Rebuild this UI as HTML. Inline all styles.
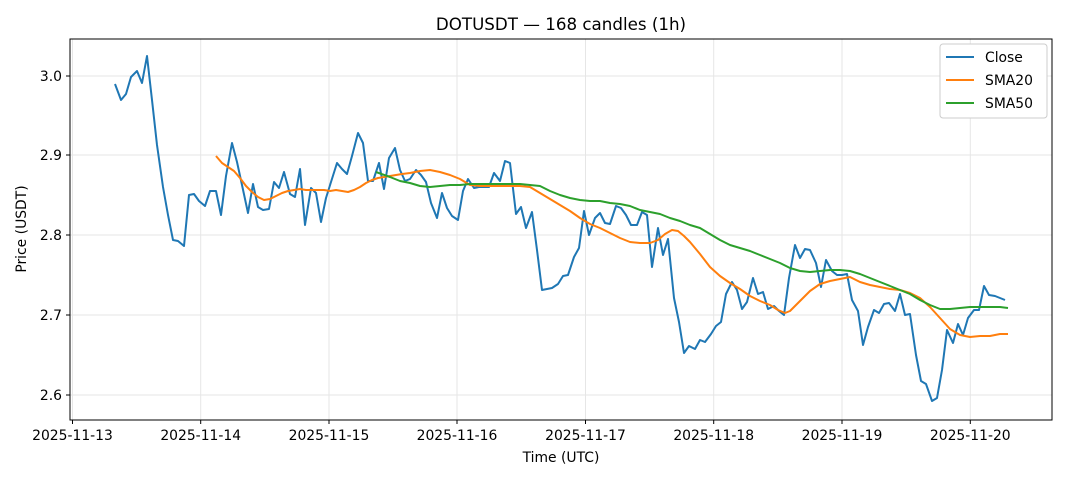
<!DOCTYPE html>
<html><head><meta charset="utf-8"><style>body{margin:0;background:#fff}svg{display:block;font-family:"DejaVu Sans","Liberation Sans",sans-serif}</style></head><body>
<svg width="1068" height="481" viewBox="0 0 1068 481">
<rect width="1068" height="481" fill="#fff"/>
<text x="561" y="30" font-size="16.7" text-anchor="middle" fill="#000">DOTUSDT — 168 candles (1h)</text>
<g stroke="#e6e6e6" stroke-width="1">
<line x1="72.5" y1="39" x2="72.5" y2="420"/><line x1="200.7" y1="39" x2="200.7" y2="420"/><line x1="329" y1="39" x2="329" y2="420"/><line x1="457" y1="39" x2="457" y2="420"/><line x1="585.5" y1="39" x2="585.5" y2="420"/><line x1="713.7" y1="39" x2="713.7" y2="420"/><line x1="842" y1="39" x2="842" y2="420"/><line x1="970.3" y1="39" x2="970.3" y2="420"/>
<line x1="70" y1="76" x2="1052" y2="76"/><line x1="70" y1="155" x2="1052" y2="155"/><line x1="70" y1="235" x2="1052" y2="235"/><line x1="70" y1="315" x2="1052" y2="315"/><line x1="70" y1="395" x2="1052" y2="395"/>
</g>
<polyline fill="none" stroke="#1f77b4" stroke-width="2" stroke-linejoin="round" points="115,84 121,100 126,94 131,77 137,71 142,83 147,56 152,100 157,145 163,187 168,215 173,240 178,241 184,246 189,195 194,194 199,201 205,206 210,191 216,191 221,215 226,176 232,143 237,162 242,185 248,213 253,184 258,207 263,210 269,209 274,182 279,188 284,172 290,194 295,197 300,169 305,225 311,188 316,193 321,222 326,198 331,182 337,163 342,169 347,174 352,156 358,133 363,143 368,181 373,181 379,163 384,189 389,158 395,148 400,170 405,181 410,179 416,170 421,175 426,182 431,203 437,218 442,193 447,208 452,216 458,220 463,191 468,179 474,188 479,187 484,187 489,187 494,173 500,181 505,161 510,163 516,214 521,207 526,228 532,212 537,250 542,290 547,289 552,288 558,284 563,276 568,275 574,257 579,248 584,211 589,235 595,218 600,213 605,223 610,224 616,206 621,208 626,215 631,225 637,225 642,212 647,215 652,267 658,228 663,255 668,239 674,298 679,322 684,353 689,346 695,349 700,340 705,342 711,334 716,326 721,322 726,294 732,282 737,290 742,309 747,302 753,278 758,294 763,292 768,309 774,306 779,311 784,315 789,278 795,245 800,258 805,249 810,250 816,263 821,287 826,260 832,271 837,275 842,275 847,274 852,300 858,311 863,345 868,327 874,310 879,313 884,304 889,303 895,311 900,294 905,315 910,314 916,355 921,381 926,384 932,401 937,398 942,370 947,330 953,343 958,324 963,335 968,318 974,310 979,310 984,286 989,295 995,296 1000,298 1005,300"/>
<polyline fill="none" stroke="#ff7f0e" stroke-width="2" stroke-linejoin="round" points="216,156 222,163 228,167 234,171 240,178 246,186 252,192 258,197 264,200 270,199 276,196 282,193 288,191 294,190 300,189 306,190 312,190 318,190 324,190 330,191 336,190 342,191 348,192 354,190 360,187 366,183 372,180 378,178 384,177 390,176 396,175 402,174 410,173 420,171 430,170 440,172 450,175 460,179 470,185 480,186 490,186 500,186 510,186 520,186 530,187 540,193 550,199 560,205 570,211 580,218 590,224 600,228 610,233 620,238 630,242 640,243 650,243 658,240 665,234 672,230 678,231 684,236 690,242 700,254 710,267 720,276 730,283 740,289 750,296 760,301 770,305 778,310 785,313 790,311 800,301 810,291 820,284 830,281 840,279 850,277 860,282 870,285 880,287 890,289 900,290 910,293 920,298 930,307 940,318 950,329 960,335 970,337 980,336 990,336 1000,334 1008,334"/>
<polyline fill="none" stroke="#2ca02c" stroke-width="2" stroke-linejoin="round" points="376,172 390,177 400,181 410,183 420,186 430,187 440,186 450,185 460,185 470,184 480,184 490,184 500,184 510,184 520,184 530,185 540,186 550,191 560,195 570,198 580,200 590,201 600,201 610,203 620,204 630,206 640,210 650,212 660,214 670,218 680,221 690,225 700,228 710,234 720,240 730,245 740,248 750,251 760,255 770,259 780,263 790,268 800,271 810,272 820,271 830,270 840,270 850,271 860,274 870,278 880,282 890,286 900,290 910,294 920,300 930,305 940,309 950,309 960,308 970,307 980,307 990,307 1000,307 1008,308"/>
<rect x="70" y="39" width="982" height="381" fill="none" stroke="#000" stroke-width="1"/>
<g stroke="#000"><line x1="72.5" y1="420" x2="72.5" y2="424"/><line x1="200.7" y1="420" x2="200.7" y2="424"/><line x1="329" y1="420" x2="329" y2="424"/><line x1="457" y1="420" x2="457" y2="424"/><line x1="585.5" y1="420" x2="585.5" y2="424"/><line x1="713.7" y1="420" x2="713.7" y2="424"/><line x1="842" y1="420" x2="842" y2="424"/><line x1="970.3" y1="420" x2="970.3" y2="424"/>
<line x1="66" y1="76" x2="70" y2="76"/><line x1="66" y1="155" x2="70" y2="155"/><line x1="66" y1="235" x2="70" y2="235"/><line x1="66" y1="315" x2="70" y2="315"/><line x1="66" y1="395" x2="70" y2="395"/></g>
<g font-size="13.9" fill="#000" text-anchor="middle">
<text x="72.5" y="440">2025-11-13</text><text x="200.7" y="440">2025-11-14</text><text x="329" y="440">2025-11-15</text><text x="457" y="440">2025-11-16</text><text x="585.5" y="440">2025-11-17</text><text x="713.7" y="440">2025-11-18</text><text x="842" y="440">2025-11-19</text><text x="970.3" y="440">2025-11-20</text>
<text x="561" y="462">Time (UTC)</text></g>
<g font-size="13.9" fill="#000" text-anchor="end">
<text x="62" y="81">3.0</text><text x="62" y="160">2.9</text><text x="62" y="240">2.8</text><text x="62" y="320">2.7</text><text x="62" y="400">2.6</text></g>
<text x="0" y="0" font-size="13.9" text-anchor="middle" transform="translate(26,229) rotate(-90)">Price (USDT)</text>
<rect x="940" y="44" width="107" height="74" rx="3" fill="#fff" stroke="#ccc"/>
<g stroke-width="2"><line x1="946" y1="57" x2="974" y2="57" stroke="#1f77b4"/><line x1="946" y1="80" x2="974" y2="80" stroke="#ff7f0e"/><line x1="946" y1="103" x2="974" y2="103" stroke="#2ca02c"/></g>
<g font-size="13.9" fill="#000"><text x="985" y="62">Close</text><text x="985" y="85">SMA20</text><text x="985" y="108">SMA50</text></g>
</svg>
</body></html>
